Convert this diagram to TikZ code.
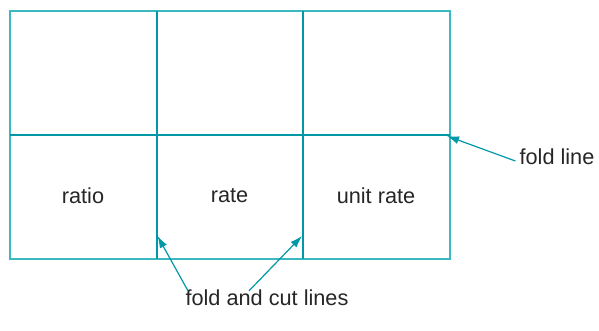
\documentclass[tikz,border=0pt]{standalone}
\usepackage{fontspec}
\setmainfont{Liberation Sans}
\usetikzlibrary{arrows.meta}
\definecolor{foldteal}{RGB}{0,152,166}
\definecolor{edgeteal}{RGB}{60,184,192}
\begin{document}
\begin{tikzpicture}[x=1pt,y=-1pt,
    frame/.style={draw=edgeteal,line width=1.4pt},
    crease/.style={draw=foldteal,line width=2pt},
    word/.style={font=\fontsize{21.7}{25}\selectfont,text=black!85,inner sep=2pt},
    pointer/.style={draw=foldteal,line width=1.2pt,-{Latex[length=12pt,width=8pt]}}]
      \useasboundingbox (0,0) rectangle (599,331);
      % sheet
      \draw [frame] (10,11) rectangle (450,259);
      \draw [crease] (10,135) -- (450,135);
      \draw [crease] (156.5,11) -- (156.5,259);
      \draw [crease] (302.5,11) -- (302.5,259);
      \node [word] (ratio) at (83,196) {ratio};
      \node [word] (rate) at (229.5,196) {rate};
      \node [word] (unitrate) at (376,196) {unit rate};
      % labels
      \node [word] (foldlbl) at (557,157) {fold line};
      \node [word] (cutlbl) at (267,298) {fold and cut lines};
      \coordinate (foldtip) at (447,136);
      \coordinate (lefttip) at (157.5,236);
      \coordinate (righttip) at (302,236);
      \draw [pointer] ([xshift=-2pt,yshift=-4pt]foldlbl.west) -- (foldtip);
      \draw [pointer] ([xshift=-79pt,yshift=-3pt]cutlbl.north) -- (lefttip);
      \draw [pointer] ([xshift=-18pt,yshift=-3pt]cutlbl.north) -- (righttip);
\end{tikzpicture}
\end{document}
